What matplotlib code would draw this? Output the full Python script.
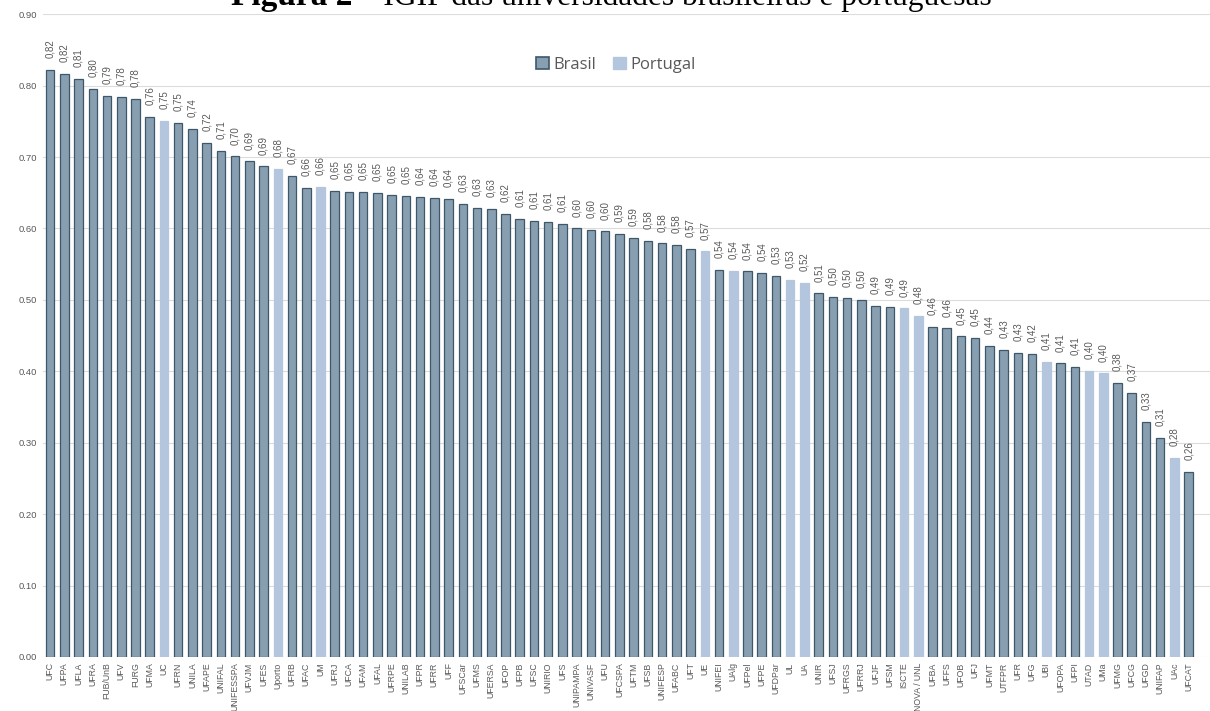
import numpy as np
import matplotlib
matplotlib.use("Agg")
import matplotlib.pyplot as plt
from matplotlib.patches import Patch

# universidades (ordem do gráfico) e IGIP
universidades = [
    "UFC", "UFPA", "UFLA", "UFRA", "FUB/UnB", "UFV", "FURG", "UFMA", "UC", "UFRN",
    "UNILA", "UFAPE", "UNIFAL", "UNIFESSPA", "UFVJM", "UFES", "Uporto", "UFRB", "UFAC", "UM",
    "UFRJ", "UFCA", "UFAM", "UFAL", "UFRPE", "UNILAB", "UFPR", "UFRR", "UFF", "UFSCar",
    "UFMS", "UFERSA", "UFOP", "UFPB", "UFSC", "UNIRIO", "UFS", "UNIPAMPA", "UNIVASF", "UFU",
    "UFCSPA", "UFTM", "UFSB", "UNIFESP", "UFABC", "UFT", "UE", "UNIFEI", "UAlg", "UFPel",
    "UFPE", "UFDPar", "UL", "UA", "UNIR", "UFSJ", "UFRGS", "UFRRJ", "UFJF", "UFSM",
    "ISCTE", "NOVA / UNL", "UFBA", "UFFS", "UFOB", "UFJ", "UFMT", "UTFPR", "UFR", "UFG",
    "UBI", "UFOPA", "UFPI", "UTAD", "UMa", "UFMG", "UFCG", "UFGD", "UNIFAP", "UAc", "UFCAT",
]
igip = [
    0.822, 0.816, 0.809, 0.796, 0.786, 0.784, 0.781, 0.756, 0.751, 0.748,
    0.739, 0.720, 0.709, 0.701, 0.694, 0.687, 0.683, 0.674, 0.657, 0.658,
    0.653, 0.651, 0.651, 0.650, 0.647, 0.646, 0.644, 0.643, 0.642, 0.634,
    0.629, 0.628, 0.621, 0.614, 0.611, 0.609, 0.606, 0.600, 0.598, 0.596,
    0.592, 0.587, 0.583, 0.579, 0.577, 0.571, 0.568, 0.542, 0.541, 0.540,
    0.538, 0.534, 0.528, 0.524, 0.509, 0.504, 0.502, 0.500, 0.492, 0.490,
    0.488, 0.478, 0.462, 0.460, 0.449, 0.447, 0.436, 0.430, 0.426, 0.424,
    0.413, 0.411, 0.406, 0.401, 0.397, 0.384, 0.370, 0.329, 0.307, 0.279, 0.259,
]
portugal = ["UC", "Uporto", "UM", "UE", "UAlg", "UL", "UA", "ISCTE", "NOVA / UNL",
            "UBI", "UTAD", "UMa", "UAc"]

COR_BR = "#889fb2"
BORDA_BR = "#3e5869"
COR_PT = "#b4c6dd"
CINZA = "#595959"

fig = plt.figure(figsize=(12.1, 7.11), dpi=100)
ax = fig.add_axes([43 / 1210, 1 - 656.9 / 711, 1 - 43 / 1210, (656.9 - 14.3) / 711])

x = np.arange(len(universidades))
eh_pt = [u in portugal for u in universidades]
cores = [COR_PT if p else COR_BR for p in eh_pt]
bordas = [COR_PT if p else BORDA_BR for p in eh_pt]
ax.bar(x, igip, width=0.6, color=cores, edgecolor=bordas, linewidth=0.9, zorder=2)

for xi, v in zip(x, igip):
    ax.annotate(f"{v:.2f}".replace(".", ","), (xi, v), xytext=(0, 8.5),
                textcoords="offset points", rotation=90, ha="center", va="bottom",
                fontsize=7, color=CINZA, family="Liberation Sans")

ax.set_xlim(-0.5, len(universidades) + 0.5)
ax.set_ylim(0, 0.9)
ax.set_yticks(np.arange(0, 0.91, 0.1))
ax.set_yticklabels([f"{t:.2f}" for t in np.arange(0, 0.91, 0.1)],
                   fontsize=6.8, color=CINZA, family="Liberation Sans")
ax.set_xticks(x)
ax.set_xticklabels(universidades, rotation=90, fontsize=6.3, color=CINZA,
                   family="Liberation Sans")
ax.tick_params(length=0, pad=4)
ax.grid(axis="y", color="#dcdcdc", linewidth=0.8, zorder=0)
for s in ax.spines.values():
    s.set_visible(False)

leg = ax.legend(handles=[Patch(facecolor=COR_BR, edgecolor=BORDA_BR, linewidth=1.2, label="Brasil"),
                         Patch(facecolor=COR_PT, edgecolor=COR_PT, label="Portugal")],
                loc="center", bbox_to_anchor=(0.491, 0.921), ncol=2, frameon=False,
                handlelength=0.75, handleheight=0.75, handletextpad=0.3, columnspacing=1.0,
                prop={"family": "Open Sans", "size": 12})
for t in leg.get_texts():
    t.set_color(CINZA)

# título (cortado no topo como na figura original)
t1 = fig.text(231 / 1210, 1 - 4.5 / 711, "Figura 2", ha="left", va="baseline",
              fontsize=24, fontweight="bold", family="Liberation Serif", color="black")
ax.annotate(" \u2013 IGIP das universidades brasileiras e portuguesas", xy=(1, 0),
            xycoords=t1, ha="left", va="bottom", fontsize=22.7,
            family="Liberation Serif", color="black", annotation_clip=False)

fig.savefig("out.png", dpi=100)
